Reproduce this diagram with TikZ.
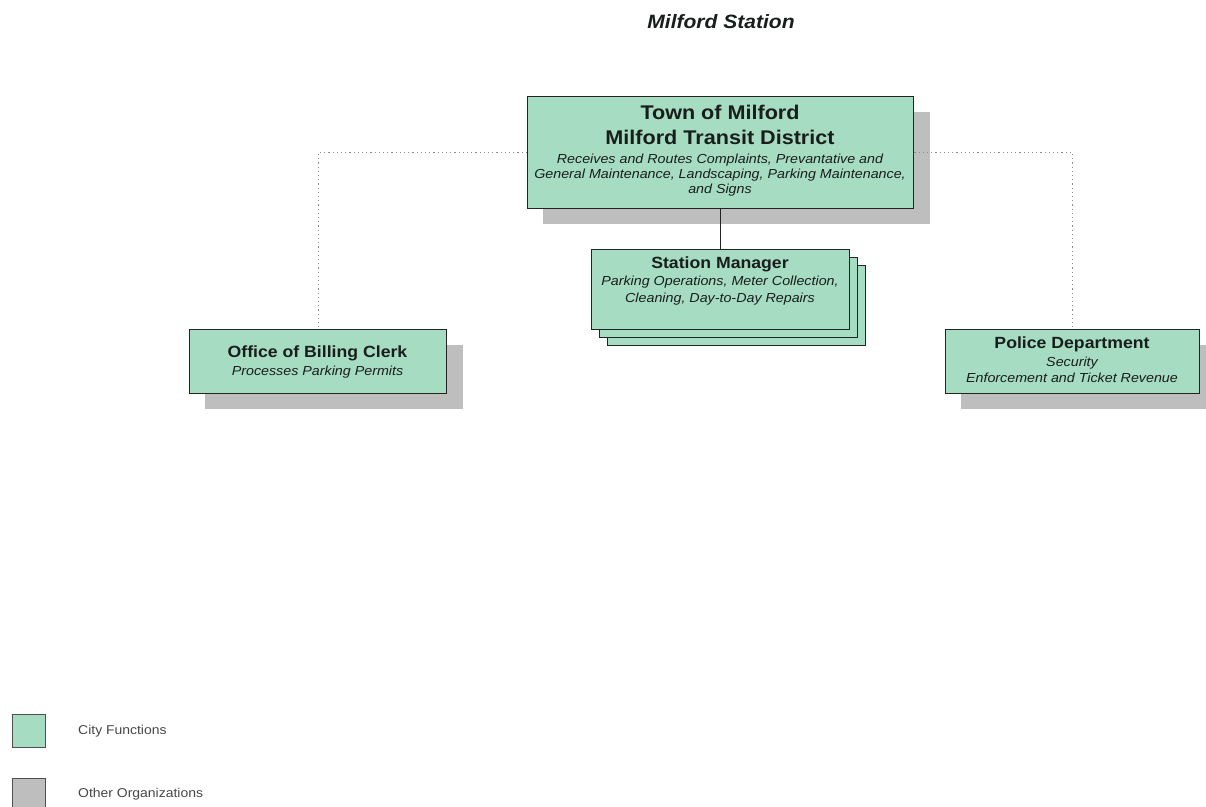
\documentclass[tikz,border=0pt]{standalone}
\usepackage{fontspec}
\setmainfont[FakeStretch=1.09]{Liberation Sans}
\definecolor{citygreen}{RGB}{166,220,193}
\definecolor{shadowgrey}{RGB}{190,190,190}
\definecolor{boxline}{RGB}{35,35,35}
\definecolor{dotgrey}{RGB}{140,140,140}
\definecolor{inktext}{RGB}{25,30,28}
\definecolor{legendink}{RGB}{70,70,70}
\begin{document}
\begin{tikzpicture}[x=1pt,y=-1pt,
  orgbox/.style={draw=boxline,fill=citygreen,line width=1.4pt,inner sep=0pt,anchor=north west},
  shade/.style={fill=shadowgrey},
  titlefont/.style={font=\fontsize{19.3}{22}\selectfont\bfseries\itshape,text=inktext},
  bigbold/.style={font=\fontsize{19.8}{22}\selectfont\bfseries,anchor=base,inner sep=0pt,text=inktext},
  midbold/.style={font=\fontsize{16.2}{19}\selectfont\bfseries,anchor=base,inner sep=0pt,text=inktext},
  desc/.style={font=\fontsize{13.1}{15}\selectfont\itshape,anchor=base,inner sep=0pt,text=inktext},
  legendtext/.style={font=\fontsize{12.8}{15}\selectfont,anchor=base west,inner sep=0pt,text=legendink},
  dotline/.style={draw=dotgrey,line width=1.2pt,dash pattern=on 1.2pt off 3pt},
  solidline/.style={draw=boxline,line width=1.4pt}]
\useasboundingbox (0,0) rectangle (1206,806);

% title
\node[titlefont,anchor=base,inner sep=0pt] (title) at (721,28) {Milford Station};

% shadows
\fill[shade] (543,112) rectangle (930,224);
\fill[shade] (205,345) rectangle (463,409);
\fill[shade] (961,345) rectangle (1216,409);

% top box
\node[orgbox,minimum width=386pt,minimum height=112pt] (top) at (527,96) {};
\node[bigbold] (t1) at (720,119) {Town of Milford};
\node[bigbold] (t2) at (720,144) {Milford Transit District};
\node[desc] (t3) at (720,163) {Receives and Routes Complaints, Prevantative and};
\node[desc] (t4) at (720,178) {General Maintenance, Landscaping, Parking Maintenance,};
\node[desc] (t5) at (720,193) {and Signs};

% station manager stack
\node[orgbox,minimum width=258pt,minimum height=80pt] (sm3) at (607,265) {};
\node[orgbox,minimum width=258pt,minimum height=80pt] (sm2) at (599,257) {};
\node[orgbox,minimum width=258pt,minimum height=80pt] (sm) at (591,249) {};
\node[midbold] (s1) at (720,268) {Station Manager};
\node[desc] (s2) at (720,285.5) {Parking Operations, Meter Collection,};
\node[desc] (s3) at (720,302) {Cleaning, Day-to-Day Repairs};

% billing clerk
\node[orgbox,minimum width=257pt,minimum height=64pt] (bill) at (189,329) {};
\node[midbold] (b1) at (317.5,357.5) {Office of Billing Clerk};
\node[desc] (b2) at (317.5,375) {Processes Parking Permits};

% police
\node[orgbox,minimum width=254pt,minimum height=64pt] (police) at (945,329) {};
\node[midbold] (p1) at (1072,348.5) {Police Department};
\node[desc] (p2) at (1072,366) {Security};
\node[desc] (p3) at (1072,382) {Enforcement and Ticket Revenue};

% connectors
\draw[solidline] (top.south) -- (sm.north);
\draw[dotline] (top.west) -| (bill.north);
\draw[dotline] (top.east) -| (police.north);

% legend
\node[draw=boxline!80,fill=citygreen,line width=1.2pt,minimum width=33pt,minimum height=33pt,inner sep=0pt,anchor=north west] (lg1) at (12,714) {};
\node[legendtext] (lt1) at (78,734.5) {City Functions};
\node[draw=boxline!80,fill=shadowgrey,line width=1.2pt,minimum width=33pt,minimum height=33pt,inner sep=0pt,anchor=north west] (lg2) at (12,778) {};
\node[legendtext] (lt2) at (78,797.5) {Other Organizations};
\end{tikzpicture}
\end{document}
